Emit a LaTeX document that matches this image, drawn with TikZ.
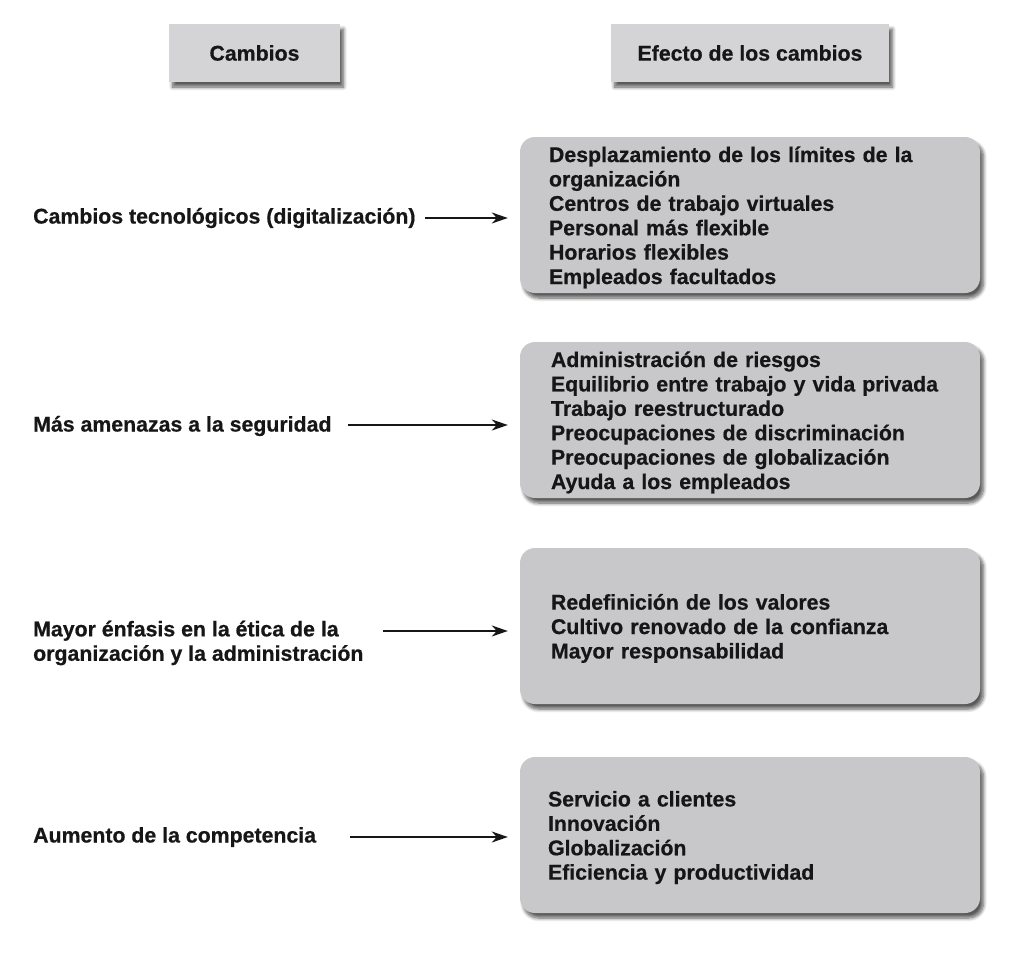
\documentclass[tikz,border=0pt]{standalone}
\usepackage{fontspec}
\setmainfont{Liberation Sans}[BoldFeatures={FakeBold=0.6}]
\usetikzlibrary{shadows.blur,arrows.meta}
\definecolor{hdrfill}{HTML}{D4D4D6}
\definecolor{boxfill}{HTML}{C8C8CA}
\definecolor{ink}{HTML}{161616}
\newcommand{\toppad}{\rule{0pt}{20.5pt}}
\tikzset{
  txt/.style={font=\bfseries\fontsize{21.3}{24.4}\selectfont, text=ink},
  shd/.style={blur shadow={shadow xshift=3.5pt, shadow yshift=-5pt, shadow blur radius=3.5pt, shadow blur steps=8, shadow opacity=65}},
  hdr/.style={txt, fill=hdrfill, minimum height=58pt, inner sep=0pt, shd},
  effbox/.style={txt, fill=boxfill, rounded corners=15pt, minimum width=460pt, minimum height=156pt,
    text width=460pt-2*#1, inner xsep=#1, inner ysep=0pt, align=left, shd},
  effbox/.default=29pt,
  lbl/.style={txt, anchor=west, align=left, inner sep=0pt},
  arr/.style={ink, line width=1.5pt, -{Stealth[length=16pt,width=11pt,inset=5pt]}, shorten >=12pt}
}
\begin{document}
\begin{tikzpicture}[x=1pt,y=-1pt]
\useasboundingbox (0,0) rectangle (1009,961);
% headers
\node[hdr, minimum width=171pt] (h1) at (254.5,53) {Cambios};
\node[hdr, minimum width=278pt] (h2) at (750,53) {Efecto de los cambios};
% effect boxes
\node[effbox] (b1) at (750,215) {\toppad Desplazamiento de los límites de la\\organización\\Centros de trabajo virtuales\\Personal más flexible\\Horarios flexibles\\Empleados facultados};
\node[effbox=31pt] (b2) at (750,420) {\toppad Administración de riesgos\\Equilibrio entre trabajo y vida privada\\Trabajo reestructurado\\Preocupaciones de discriminación\\Preocupaciones de globalización\\Ayuda a los empleados};
\node[effbox=31pt] (b3) at (750,626) {\toppad Redefinición de los valores\\Cultivo renovado de la confianza\\Mayor responsabilidad};
\node[effbox=28pt] (b4) at (750,835) {\toppad Servicio a clientes\\Innovación\\Globalización\\Eficiencia y productividad};
% change labels
\node[lbl] (c1) at (33,218) {Cambios tecnológicos (digitalización)};
\node[lbl] (c2) at (33,426) {Más amenazas a la seguridad};
\node[lbl] (c3) at (33,643) {Mayor énfasis en la ética de la\\organización y la administración};
\node[lbl] (c4) at (33,837) {Aumento de la competencia};
% arrow starts
\coordinate (s1) at (425,218);
\coordinate (s2) at (348,425);
\coordinate (s3) at (383,631);
\coordinate (s4) at (350,837);
\draw[arr] (s1) -- (s1 -| b1.west);
\draw[arr] (s2) -- (s2 -| b2.west);
\draw[arr] (s3) -- (s3 -| b3.west);
\draw[arr] (s4) -- (s4 -| b4.west);
\end{tikzpicture}
\end{document}
